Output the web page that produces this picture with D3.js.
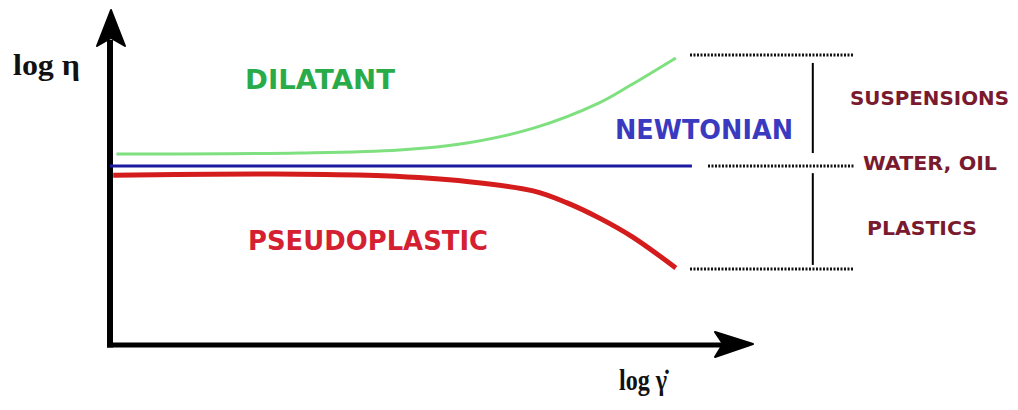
<!DOCTYPE html>
<html>
<head>
<meta charset="UTF-8">
<title>Viscosity vs shear rate</title>
<script src="https://cdn.jsdelivr.net/npm/d3@7"></script>
<style>
  body { margin: 0; background: #fff; }
  .lbl { font-family: Verdana, "DejaVu Sans", sans-serif; font-weight: bold; }
  .ax { font-family: "Times New Roman", "Liberation Serif", serif; font-weight: bold; }
</style>
</head>
<body>
<svg id="mainsvg" width="1018" height="410"></svg>
<script>
// curve data, log(shear rate) vs log(viscosity), arbitrary units 0..10
const dilatantX  = [0.1, 2.95, 4.5, 5.55, 6.6, 7.6, 8.1, 8.8];
const dilatantY  = [5.7, 5.73, 5.82, 6.03, 6.48, 7.22, 7.76, 8.57];
const newtonX    = [0.0, 9.05];
const newtonY    = [5.34, 5.34];
const pseudoX    = [0.05, 2.95, 4.25, 5.55, 6.58, 7.1, 7.62, 8.13, 8.8];
const pseudoY    = [5.07, 5.1, 5.05, 4.88, 4.6, 4.25, 3.78, 3.22, 2.3];

// reference levels on the right (dotted) and the bracket
const levelNames = ['SUSPENSIONS', 'WATER, OIL', 'PLASTICS'];
const levelY     = [8.66, 5.34, 2.27];
const levelX0    = [9.02, 9.3, 9.02];
const levelX1    = 11.57;
const bracketX   = 10.93;
const bracketY   = [[8.42, 5.73], [5.13, 2.39]];

const svg = d3.select('#mainsvg');
const xScale = d3.scaleLinear().domain([0, 10]).range([110, 753]);
const yScale = d3.scaleLinear().domain([0, 10]).range([345, 10]);

const line = d3.line().x(d => xScale(d[0])).y(d => yScale(d[1])).curve(d3.curveCatmullRom.alpha(0.5));

// axes with arrow heads
const x0 = xScale(0), y0 = yScale(0);
svg.append('line')
  .attr('x1', x0).attr('y1', y0 + 2.5).attr('x2', x0).attr('y2', yScale(10) + 30)
  .attr('stroke', '#000').attr('stroke-width', 6);
svg.append('line')
  .attr('x1', x0 - 3).attr('y1', y0).attr('x2', xScale(10) - 30).attr('y2', y0)
  .attr('stroke', '#000').attr('stroke-width', 5);

const yt = yScale(10);
svg.append('path')
  .attr('d', `M${x0 + 1},${yt} L${x0 + 15},${yt + 36} L${x0 + 1},${yt + 28} L${x0 - 13},${yt + 36} Z`)
  .attr('fill', '#000').attr('stroke', '#000').attr('stroke-width', 2).attr('stroke-linejoin', 'round');
const xt = xScale(10);
svg.append('path')
  .attr('d', `M${xt},${y0 - 1} L${xt - 38},${y0 - 13} L${xt - 30},${y0 - 1} L${xt - 38},${y0 + 12} Z`)
  .attr('fill', '#000').attr('stroke', '#000').attr('stroke-width', 2).attr('stroke-linejoin', 'round');

// curves
const curves = [
  {x: dilatantX, y: dilatantY, color: '#7fe07f', w: 3},
  {x: newtonX, y: newtonY, color: '#1a1aa0', w: 3},
  {x: pseudoX, y: pseudoY, color: '#d41c1c', w: 5}
];
curves.forEach(c => {
  svg.append('path')
    .datum(d3.zip(c.x, c.y))
    .attr('d', line)
    .attr('fill', 'none')
    .attr('stroke', c.color)
    .attr('stroke-width', c.w)
    .attr('stroke-linecap', 'butt');
});

// dotted reference lines
svg.selectAll('.level')
  .data(levelY)
  .enter().append('line')
  .attr('class', 'level')
  .attr('x1', (d, i) => xScale(levelX0[i]))
  .attr('x2', xScale(levelX1))
  .attr('y1', d => yScale(d))
  .attr('y2', d => yScale(d))
  .attr('stroke', '#111')
  .attr('stroke-width', 3)
  .attr('stroke-dasharray', '2,1.5');

// bracket
svg.selectAll('.bracket')
  .data(bracketY)
  .enter().append('line')
  .attr('class', 'bracket')
  .attr('x1', xScale(bracketX)).attr('x2', xScale(bracketX))
  .attr('y1', d => yScale(d[0])).attr('y2', d => yScale(d[1]))
  .attr('stroke', '#000').attr('stroke-width', 2);

// labels
const labels = [
  {t: 'DILATANT', x: 245, y: 89, w: 150, s: 26, c: '#2aab4a'},
  {t: 'NEWTONIAN', x: 615, y: 139, w: 178, s: 26, c: '#3a3ac0'},
  {t: 'PSEUDOPLASTIC', x: 248, y: 250, w: 240, s: 26, c: '#d42030'},
  {t: levelNames[0], x: 850, y: 105, w: 159, s: 19, c: '#7a1a2e'},
  {t: levelNames[1], x: 863, y: 170, w: 134, s: 19, c: '#7a1a2e'},
  {t: levelNames[2], x: 867, y: 235, w: 110, s: 19, c: '#7a1a2e'}
];
svg.selectAll('.lbl')
  .data(labels)
  .enter().append('text')
  .attr('class', 'lbl')
  .attr('x', d => d.x).attr('y', d => d.y)
  .attr('font-size', d => d.s)
  .attr('fill', d => d.c)
  .attr('textLength', d => d.w)
  .attr('lengthAdjust', 'spacingAndGlyphs')
  .text(d => d.t);

svg.append('text')
  .attr('class', 'ax')
  .attr('x', 13).attr('y', 75)
  .attr('font-size', 29)
  .attr('fill', '#111')
  .attr('textLength', 67).attr('lengthAdjust', 'spacingAndGlyphs')
  .text('log η');

svg.append('text')
  .attr('class', 'ax')
  .attr('x', 619).attr('y', 390)
  .attr('font-size', 30)
  .attr('fill', '#111')
  .attr('textLength', 48).attr('lengthAdjust', 'spacingAndGlyphs')
  .text('log γ\u0307');
</script>
</body>
</html>
